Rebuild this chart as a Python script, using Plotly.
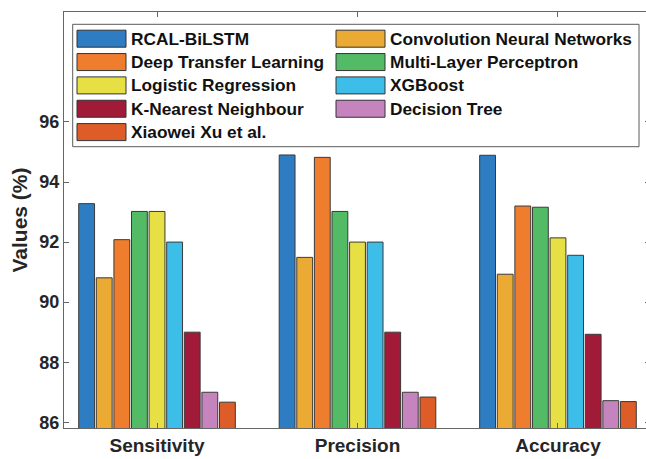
import plotly.graph_objects as go

# ---- data ----
metrics = ["Sensitivity", "Precision", "Accuracy"]
methods = ["RCAL-BiLSTM", "Convolution Neural Networks", "Deep Transfer Learning",
           "Multi-Layer Perceptron", "Logistic Regression", "XGBoost",
           "K-Nearest Neighbour", "Decision Tree", "Xiaowei Xu et al."]
sensitivity = [93.28, 90.81, 92.08, 93.02, 93.02, 92.00, 89.00, 87.00, 86.67]
precision   = [94.90, 91.49, 94.82, 93.02, 92.00, 92.00, 89.00, 87.00, 86.84]
accuracy    = [94.89, 90.93, 93.20, 93.16, 92.14, 91.56, 88.93, 86.72, 86.69]
y_ticks = [86, 88, 90, 92, 94, 96]

colors = ["#2E7CC1", "#EBAA33", "#EE7D2E", "#53BA65", "#E6E044",
          "#3DBEE9", "#A11A38", "#C584BD", "#DD5C27"]

# figure slightly wider than the window: the right axis edge is cropped off as in the reference
W, H = 652, 459
L, R, T, B = 64, 2, 12, 31
PW, PH = W - L - R, H - T - B
FONT = "Liberation Sans, Arial, Helvetica, sans-serif"
TXT = "#262626"

fig = go.Figure()
for i, name in enumerate(methods):
    vals = [sensitivity[i], precision[i], accuracy[i]]
    fig.add_trace(go.Bar(
        x=metrics, y=vals, name=name, showlegend=False,
        marker=dict(color=colors[i], line=dict(color="#3a3a3a", width=1)),
    ))

def px_x(px):
    return (px - L) / PW

def px_y(py):
    return (H - B - py) / PH

shapes = []
annotations = []
# legend box
shapes.append(dict(type="rect", xref="paper", yref="paper",
                   x0=px_x(72.7), x1=px_x(639), y0=px_y(24.3), y1=px_y(146.7),
                   line=dict(color="#5a5a5a", width=1), fillcolor="white", layer="above"))
for i, name in enumerate(methods):
    col, row = i % 2, i // 2
    sx0 = 77 + col * 259
    yc = 38.7 + row * 23.35
    shapes.append(dict(type="rect", xref="paper", yref="paper",
                       x0=px_x(sx0), x1=px_x(sx0 + 49),
                       y0=px_y(yc - 8.5), y1=px_y(yc + 8.5),
                       line=dict(color="#333333", width=1), fillcolor=colors[i], layer="above"))
    annotations.append(dict(xref="paper", yref="paper", x=px_x(sx0 + 52), y=px_y(yc),
                            xanchor="left", yanchor="middle", showarrow=False,
                            text=name,
                            font=dict(family=FONT, size=17.3, color="#111111", weight="bold")))

fig.update_layout(
    width=W, height=H,
    margin=dict(l=L, r=R, t=T, b=B),
    plot_bgcolor="white", paper_bgcolor="white",
    barmode="group", bargap=0.21, bargroupgap=0.1,
    shapes=shapes, annotations=annotations,
    xaxis=dict(range=[-0.464, 2.459], showgrid=False, zeroline=False,
               showline=True, linecolor="#666666", linewidth=1, mirror="ticks",
               ticks="inside", ticklen=5, tickcolor="#666666",
               tickfont=dict(family=FONT, size=19, color=TXT, weight="bold")),
    yaxis=dict(range=[85.81, 99.66], tickvals=y_ticks, showgrid=False, zeroline=False,
               showline=True, linecolor="#666666", linewidth=1, mirror="ticks",
               ticks="inside", ticklen=5, tickcolor="#666666",
               tickfont=dict(family=FONT, size=18, color=TXT, weight="bold"),
               title=dict(text="Values (%)", standoff=6,
                          font=dict(family=FONT, size=21, color=TXT, weight="bold"))),
)

fig.write_html(
    "out.html",
    config={"displayModeBar": False},
    post_script=("document.body.style.margin='0';"
                 "document.body.style.overflow='hidden';"
                 "document.documentElement.style.overflow='hidden';"),
)
